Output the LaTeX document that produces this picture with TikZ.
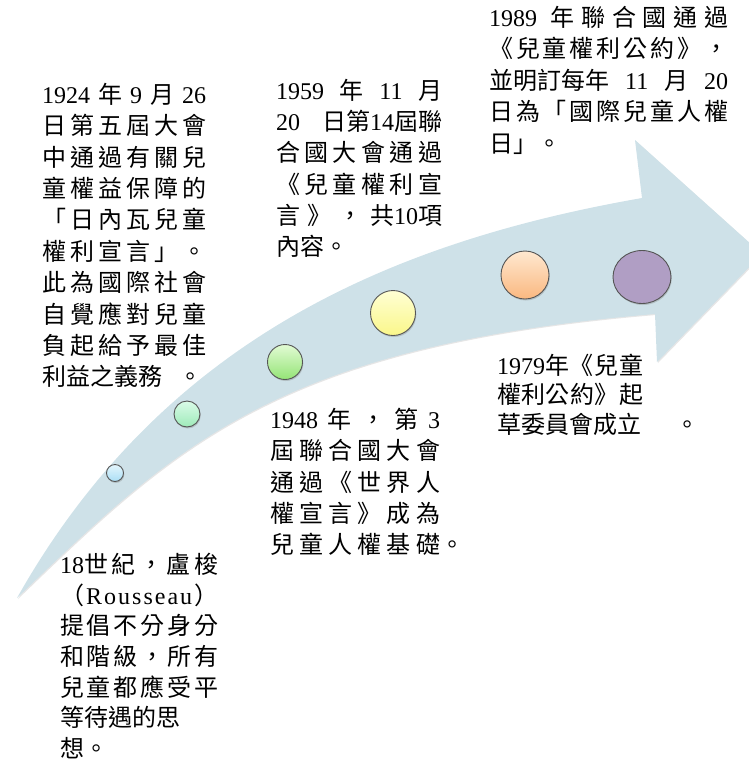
\documentclass[tikz,border=0pt]{standalone}
\usepackage{fontspec}
\setmainfont{Noto Sans CJK TC}
\newfontfamily\latf{Liberation Serif}
\usetikzlibrary{shapes.geometric,shadows}
% CJK character classes and distributed spacing between them
\newcount\cjkcnt
\cjkcnt="4E00
\loop \XeTeXcharclass\cjkcnt=1 \advance\cjkcnt by 1 \ifnum\cjkcnt<"A000 \repeat
\XeTeXcharclass"300C=2 \XeTeXcharclass"300A=2 \XeTeXcharclass"FF08=2
\XeTeXcharclass"300D=3 \XeTeXcharclass"300B=3 \XeTeXcharclass"FF09=3
\XeTeXcharclass"3002=3 \XeTeXcharclass"FF0C=3
\XeTeXinterchartokenstate=1
\XeTeXinterchartoks 1 1 = {\hfil}
\XeTeXinterchartoks 1 2 = {\hfil}
\XeTeXinterchartoks 1 3 = {\hfil}
\XeTeXinterchartoks 2 1 = {\hfil}
\XeTeXinterchartoks 2 2 = {\hfil}
\XeTeXinterchartoks 3 1 = {\hfil}
\XeTeXinterchartoks 3 2 = {\hfil}
\XeTeXinterchartoks 3 3 = {\hfil}
\definecolor{arrowblue}{RGB}{206,225,232}
\definecolor{dotline}{RGB}{85,85,85}
\definecolor{cat}{RGB}{228,246,253}\definecolor{cab}{RGB}{170,222,245}
\definecolor{cbt}{RGB}{218,251,232}\definecolor{cbb}{RGB}{158,234,185}
\definecolor{cct}{RGB}{226,251,212}\definecolor{ccb}{RGB}{148,228,118}
\definecolor{cdt}{RGB}{255,255,212}\definecolor{cdb}{RGB}{250,247,138}
\definecolor{cet}{RGB}{255,232,208}\definecolor{ceb}{RGB}{250,184,128}
\definecolor{cf}{RGB}{176,158,196}
\newcommand\LT[1]{{\latf #1}}
\newcommand\jl[2]{\makebox[#1][s]{#2}}
\newcommand\blk[2]{\vtop{\baselineskip=#1\lineskiplimit=-50pt\lineskip=0pt #2}}
\newcommand\row[1]{\hbox{#1}}
\begin{document}
\begin{tikzpicture}[x=1pt,y=-1pt,
  txt/.style={anchor=base west, inner sep=0pt, font=\fontsize{24}{30}\selectfont},
  dot/.style={circle, draw=dotline, line width=0.9pt, inner sep=0pt,
    drop shadow={shadow xshift=0.8pt, shadow yshift=-1.5pt, opacity=0.35}}]
\useasboundingbox (0,0) rectangle (749,764);
\clip (0,0) rectangle (749,764);
% arrow
\fill[arrowblue, drop shadow={shadow xshift=1pt, shadow yshift=-1pt, opacity=0.2}]
  (17,598) .. controls (164,337) and (396,241) .. (642,198)
  -- (635,140) -- (762,254) -- (657,362) -- (655,314)
  .. controls (276,346) and (175,446) .. (17,598) -- cycle;
% dots
\node[dot, minimum size=17pt, top color=cat, bottom color=cab] (c1) at (115,473) {};
\node[dot, minimum size=26pt, top color=cbt, bottom color=cbb] (c2) at (187,414) {};
\node[dot, minimum size=35pt, top color=cct, bottom color=ccb] (c3) at (285,362) {};
\node[dot, minimum size=45pt, top color=cdt, bottom color=cdb] (c4) at (393,313) {};
\node[dot, minimum size=48pt, top color=cet, bottom color=ceb] (c5) at (525,275) {};
\node[dot, ellipse, minimum width=58pt, minimum height=53pt, fill=cf] (c6) at (642,277) {};
% texts
\node[txt] (tA) at (42,103.3) {\blk{31.4pt}{%
  \row{\jl{164pt}{\LT{1924}\hfill 年\hfill\LT{9}\hfill 月\hfill\LT{26}}}
  \row{\jl{164pt}{日第五屆大會}}
  \row{\jl{164pt}{中通過有關兒}}
  \row{\jl{164pt}{童權益保障的}}
  \row{\jl{164pt}{「日內瓦兒童}}
  \row{\jl{164pt}{權利宣言」。}}
  \row{\jl{164pt}{此為國際社會}}
  \row{\jl{164pt}{自覺應對兒童}}
  \row{\jl{164pt}{負起給予最佳}}
  \row{\jl{160pt}{利益之義務\hfill 。}}}};
\node[txt] (tB) at (60,573.3) {\blk{30.7pt}{%
  \row{\jl{158pt}{\LT{18}世紀，盧梭}}
  \row{\jl{158pt}{（\hfill\LT{R\hfill o\hfill u\hfill s\hfill s\hfill e\hfill a\hfill u}\hfill）}}
  \row{\jl{158pt}{提倡不分身分}}
  \row{\jl{158pt}{和階級，所有}}
  \row{\jl{158pt}{兒童都應受平}}
  \row{等待遇的思}
  \row{想。}}};
\node[txt] (tC) at (276,99.5) {\blk{31.2pt}{%
  \row{\jl{166pt}{\LT{1959}\hfill 年\hfill\LT{11}\hfill 月}}
  \row{\jl{166pt}{\LT{20}\hfill 日第\LT{14}屆聯}}
  \row{\jl{166pt}{合國大會通過}}
  \row{\jl{166pt}{《兒童權利宣}}
  \row{\jl{166pt}{言》，共\LT{10}項}}
  \row{內容。}}};
\node[txt] (tD) at (270,428.3) {\blk{31.4pt}{%
  \row{\jl{170pt}{\LT{1948}\hfill 年\hfill ，\hfill 第\hfill\LT{3}}}
  \row{\jl{170pt}{屆聯合國大會}}
  \row{\jl{170pt}{通過《世界人}}
  \row{\jl{170pt}{權宣言》成為}}
  \row{\jl{170pt}{兒童人權基礎}。}}};
\node[txt] (tE) at (497,374) {\blk{29.5pt}{%
  \row{\jl{146pt}{\LT{1979}年《兒童}}
  \row{\jl{146pt}{權利公約》起}}
  \row{\jl{202pt}{草委員會成立\hfill 。}}}};
\node[txt] (tF) at (489,26) {\blk{31.5pt}{%
  \row{\jl{239pt}{\LT{1989}\hspace{8pt} 年聯合國通過}}
  \row{\jl{239pt}{《兒童權利公約》，}}
  \row{\jl{239pt}{並明訂每年\hfill\LT{11}\hfill 月\hfill\LT{20}}}
  \row{\jl{239pt}{日為「國際兒童人權}}
  \row{日」。}}};
\end{tikzpicture}
\end{document}
